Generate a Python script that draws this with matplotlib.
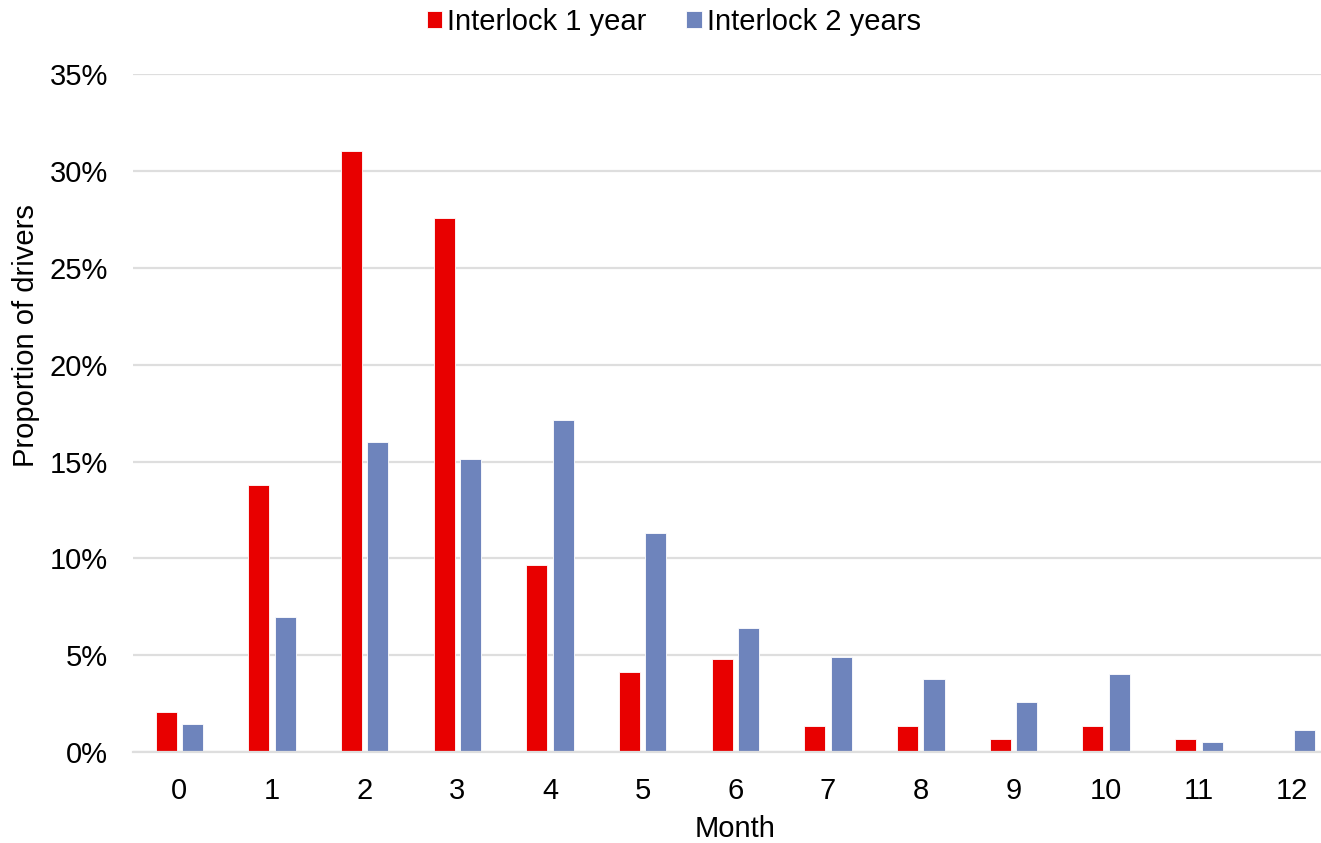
import numpy as np
import matplotlib
matplotlib.use("Agg")
import matplotlib.pyplot as plt
from matplotlib.ticker import FuncFormatter, MultipleLocator

plt.rcParams['font.family'] = ['Liberation Sans', 'DejaVu Sans']

months = [str(m) for m in range(13)]
interlock_1yr = [2.07, 13.79, 31.03, 27.59, 9.66, 4.14, 4.83, 1.38, 1.38, 0.69, 1.38, 0.69, 0.0]
interlock_2yr = [1.44, 6.96, 16.0, 15.11, 17.15, 11.33, 6.39, 4.91, 3.76, 2.59, 4.03, 0.55, 1.15]
series_labels = ["Interlock 1 year", "Interlock 2 years"]

RED = "#E80000"
BLUE = "#6E84BC"
GRID = "#DEDEDE"
FS = 21

fig = plt.figure(figsize=(13.21, 8.43), dpi=100)
ax = fig.add_axes([0.1007, 0.1076, 0.912, 0.8046])

x = np.arange(len(months))
w = 0.227
off = 0.143
ax.bar(x - off, interlock_1yr, width=w, color=RED, edgecolor="white",
       linewidth=0.6, label=series_labels[0], zorder=3)
ax.bar(x + off, interlock_2yr, width=w, color=BLUE, edgecolor="white",
       linewidth=0.6, label=series_labels[1], zorder=3)

ax.set_xlim(-0.5, len(months) - 0.5)
ax.set_ylim(0, 35)
ax.yaxis.set_major_locator(MultipleLocator(5))
ax.yaxis.set_major_formatter(FuncFormatter(lambda v, p: f"{v:.0f}%"))
ax.set_xticks(x)
ax.set_xticklabels(months)

ax.grid(axis="y", color=GRID, linewidth=1.6, zorder=0)
ax.set_axisbelow(True)
for s in ["top", "right", "left"]:
    ax.spines[s].set_visible(False)
ax.spines["bottom"].set_color(GRID)
ax.spines["bottom"].set_linewidth(1.6)
ax.spines["bottom"].set_zorder(4)

ax.tick_params(axis="both", length=0, labelsize=FS, colors="black")
ax.tick_params(axis="y", pad=18)
ax.tick_params(axis="x", pad=17.5)

ax.set_xlabel("Month", fontsize=FS, labelpad=7.5)
fig.text(26 / 1321, 1 - 336 / 843, "Proportion of drivers", rotation=90,
         ha="center", va="center", fontsize=FS)

fig.legend(loc="center", bbox_to_anchor=(0.510, 1 - 21.5 / 843), ncol=2,
           frameon=False, fontsize=FS, handlelength=0.52, handleheight=0.52,
           handletextpad=0.17, columnspacing=1.37, borderpad=0)

fig.savefig("out.png", dpi=100)
